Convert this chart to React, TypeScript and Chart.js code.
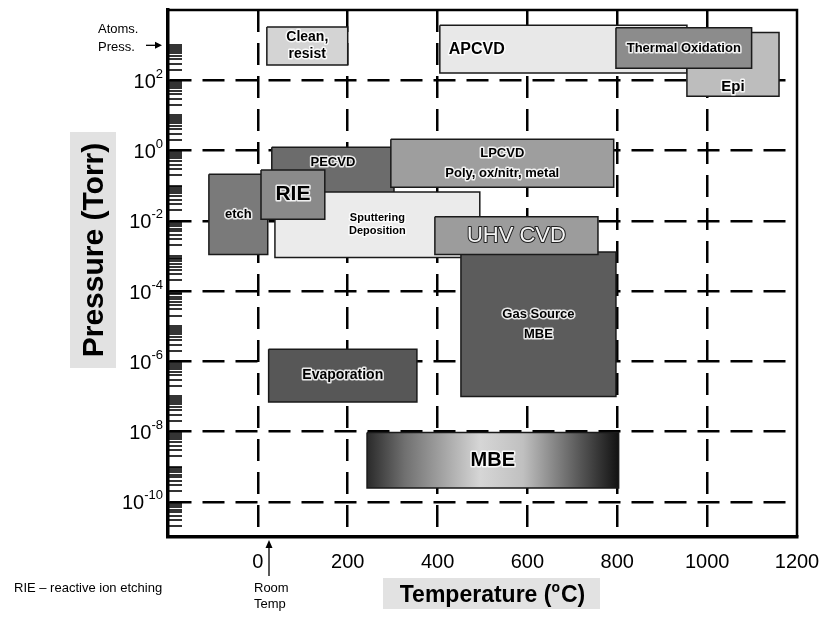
import React, { useEffect, useRef } from 'react';
import { Chart, registerables } from 'chart.js';

Chart.register(...registerables);

// ---------------- data ----------------
const processNames = [
  'Clean,\nresist',
  'APCVD',
  'Epi',
  'Thermal Oxidation',
  'PECVD',
  'LPCVD\nPoly, ox/nitr, metal',
  'etch',
  'Sputtering\nDeposition',
  'RIE',
  'Gas Source\nMBE',
  'UHV CVD',
  'Evaporation',
  'MBE',
];
// temperature range (°C)
const tempLow = [20, 405, 955, 797, 31, 296, -109, 38, 7, 452, 394, 24, 243];
const tempHigh = [200, 955, 1160, 1099, 303, 792, 22, 494, 149, 797, 757, 354, 803];
// pressure range (Torr)
const pressLow = [270, 160, 35, 220, 0.06, 0.09, 0.0011, 0.0009, 0.011, 1e-7, 0.0011, 7e-8, 2.5e-10];
const pressHigh = [3300, 3700, 2300, 3100, 1.25, 2.1, 0.21, 0.066, 0.28, 0.0013, 0.013, 2.2e-6, 9.5e-9];

const xTickValues = [-200, 0, 200, 400, 600, 800, 1000, 1200];
const xTickLabels = ['', '0', '200', '400', '600', '800', '1000', '1200'];
const yMajorExponents = [2, 0, -2, -4, -6, -8, -10];
const yDecades = [-11, -10, -9, -8, -7, -6, -5, -4, -3, -2, -1, 0, 1, 2];
const yMinorMultipliers = [1, 2, 3, 4, 5, 6, 7, 8, 9];
const yTopTick = 1000;

// ---------------- styles ----------------
const FONT = '"Liberation Sans", Arial, Helvetica, sans-serif';
const boxColors = [
  '#d4d4d4', '#e8e8e8', '#bdbdbd', '#8c8c8c', '#6c6c6c', '#9e9e9e', '#7a7a7a',
  '#ebebeb', '#8a8a8a', '#5c5c5c', '#9c9c9c', '#575757', 'gradient',
];
type LabelStyle = { font: string; lh: number; align?: CanvasTextAlign; atTemp?: number; atPress?: number; color?: string; halo?: string; haloW?: number };
const labelStyles: LabelStyle[] = [
  { font: 'bold 14px', lh: 17 },
  { font: 'bold 16px', lh: 18, align: 'left', atTemp: 425 },
  { font: 'bold 15px', lh: 18, atPress: 65 },
  { font: 'bold 13px', lh: 16 },
  { font: 'bold 13px', lh: 16, atPress: 0.47 },
  { font: 'bold 13px', lh: 20 },
  { font: 'bold 13px', lh: 16 },
  { font: 'bold 11px', lh: 13 },
  { font: 'bold 21px', lh: 22 },
  { font: 'bold 13px', lh: 20 },
  { font: '22px', lh: 22, color: '#f4f4f4', halo: '#202020', haloW: 2 },
  { font: 'bold 14px', lh: 16 },
  { font: 'bold 20px', lh: 22 },
];

const boxPlugin = {
  id: 'boxLabels',
  afterDatasetsDraw(chart: any) {
    const { ctx } = chart;
    const x = chart.scales.x;
    const y = chart.scales.y;
    processNames.forEach((name, i) => {
      const st = labelStyles[i];
      const left = x.getPixelForValue(tempLow[i]);
      const right = x.getPixelForValue(tempHigh[i]);
      const top = y.getPixelForValue(pressHigh[i]);
      const bottom = y.getPixelForValue(pressLow[i]);
      const cx = st.atTemp != null ? x.getPixelForValue(st.atTemp) : (left + right) / 2;
      const cy = st.atPress != null ? y.getPixelForValue(st.atPress) : (top + bottom) / 2;
      const lines = name.split('\n');
      ctx.save();
      ctx.font = `${st.font} ${FONT}`;
      ctx.textAlign = st.align || 'center';
      ctx.textBaseline = 'middle';
      ctx.lineJoin = 'round';
      lines.forEach((ln, k) => {
        const ly = cy + (k - (lines.length - 1) / 2) * st.lh;
        ctx.strokeStyle = st.halo || 'rgba(255,255,255,0.85)';
        ctx.lineWidth = st.haloW ?? 3;
        ctx.strokeText(ln, cx, ly);
        ctx.fillStyle = st.color || '#000';
        ctx.fillText(ln, cx, ly);
      });
      ctx.restore();
    });
  },
  afterDraw(chart: any) {
    const { ctx, chartArea } = chart;
    const y = chart.scales.y;
    ctx.save();
    // top & right frame
    ctx.strokeStyle = '#000';
    ctx.lineWidth = 2.5;
    ctx.beginPath();
    ctx.moveTo(chartArea.left, chartArea.top);
    ctx.lineTo(chartArea.right, chartArea.top);
    ctx.lineTo(chartArea.right, chartArea.bottom);
    ctx.stroke();

    // y tick labels 10^n
    ctx.fillStyle = '#000';
    ctx.textBaseline = 'middle';
    ctx.textAlign = 'left';
    yMajorExponents.forEach((e) => {
      const py = y.getPixelForValue(Math.pow(10, e));
      ctx.font = `20px ${FONT}`;
      const wBase = ctx.measureText('10').width;
      ctx.font = `13px ${FONT}`;
      const expStr = String(e);
      const wExp = ctx.measureText(expStr).width;
      const x0 = chartArea.left - 5 - wBase - wExp;
      ctx.font = `20px ${FONT}`;
      ctx.fillText('10', x0, py + 2);
      ctx.font = `13px ${FONT}`;
      ctx.fillText(expStr, x0 + wBase, py - 6);
    });

    // y axis title with grey background
    ctx.fillStyle = '#e2e2e2';
    ctx.fillRect(70, 132, 46, 236);
    ctx.save();
    ctx.translate(95, 250);
    ctx.rotate(-Math.PI / 2);
    ctx.fillStyle = '#000';
    ctx.font = `bold 30px ${FONT}`;
    ctx.textAlign = 'center';
    ctx.textBaseline = 'middle';
    ctx.fillText('Pressure (Torr)', 0, 0);
    ctx.restore();

    // x axis title with grey background
    ctx.fillStyle = '#e2e2e2';
    ctx.fillRect(383, 578, 217, 31);
    ctx.fillStyle = '#000';
    ctx.textAlign = 'left';
    ctx.textBaseline = 'alphabetic';
    const p1 = 'Temperature (';
    const p2 = 'o';
    const p3 = 'C)';
    ctx.font = `bold 23px ${FONT}`;
    const w1 = ctx.measureText(p1).width;
    const w3 = ctx.measureText(p3).width;
    ctx.font = `bold 14px ${FONT}`;
    const w2 = ctx.measureText(p2).width;
    const tx = 492 - (w1 + w2 + w3) / 2;
    ctx.font = `bold 23px ${FONT}`;
    ctx.fillText(p1, tx, 602);
    ctx.font = `bold 14px ${FONT}`;
    ctx.fillText(p2, tx + w1, 592);
    ctx.font = `bold 23px ${FONT}`;
    ctx.fillText(p3, tx + w1 + w2 + 1, 602);

    // notes
    ctx.font = `13px ${FONT}`;
    ctx.textBaseline = 'middle';
    ctx.fillText('Atoms.', 98, 29);
    ctx.fillText('Press.', 98, 47);
    ctx.fillText('RIE – reactive ion etching', 14, 588);
    ctx.fillText('Room', 254, 588);
    ctx.fillText('Temp', 254, 604);

    // arrows
    ctx.strokeStyle = '#000';
    ctx.lineWidth = 1.3;
    const atm = y.getPixelForValue(760);
    ctx.beginPath();
    ctx.moveTo(146, atm - 4);
    ctx.lineTo(158, atm - 4);
    ctx.stroke();
    ctx.beginPath();
    ctx.moveTo(162, atm - 4);
    ctx.lineTo(155, atm - 7.5);
    ctx.lineTo(155, atm - 0.5);
    ctx.closePath();
    ctx.fill();

    ctx.beginPath();
    ctx.moveTo(269, 576);
    ctx.lineTo(269, 546);
    ctx.stroke();
    ctx.beginPath();
    ctx.moveTo(269, 540);
    ctx.lineTo(265.5, 548);
    ctx.lineTo(272.5, 548);
    ctx.closePath();
    ctx.fill();
    ctx.restore();
  },
};

function buildDatasets() {
  const n = processNames.length;
  return processNames.map((name, i) => ({
    label: name,
    data: [
      { x: tempLow[i], y: pressHigh[i] },
      { x: tempHigh[i], y: pressHigh[i] },
      { x: tempHigh[i], y: pressLow[i] },
      { x: tempLow[i], y: pressLow[i] },
      { x: tempLow[i], y: pressHigh[i] },
    ],
    showLine: true,
    fill: 'shape',
    tension: 0,
    pointRadius: 0,
    borderColor: '#1a1a1a',
    borderWidth: 1.5,
    order: n - i,
    backgroundColor:
      boxColors[i] === 'gradient'
        ? (c: any) => {
            const ch = c.chart;
            if (!ch.chartArea) return '#777';
            const x = ch.scales.x;
            const g = ch.ctx.createLinearGradient(x.getPixelForValue(tempLow[i]), 0, x.getPixelForValue(tempHigh[i]), 0);
            g.addColorStop(0, '#2a2a2a');
            g.addColorStop(0.15, '#707070');
            g.addColorStop(0.45, '#d6d6d6');
            g.addColorStop(0.62, '#c0c0c0');
            g.addColorStop(0.85, '#555555');
            g.addColorStop(1, '#121212');
            return g;
          }
        : boxColors[i],
  }));
}

export default function App() {
  const ref = useRef<HTMLCanvasElement | null>(null);
  useEffect(() => {
    if (!ref.current) return;
    const chart = new Chart(ref.current, {
      type: 'scatter',
      data: { datasets: buildDatasets() as any },
      options: {
        animation: false,
        responsive: false,
        events: [],
        layout: { padding: { left: 0, top: 10, right: 28, bottom: 0 } },
        plugins: { legend: { display: false }, tooltip: { enabled: false } },
        scales: {
          x: {
            type: 'linear',
            min: -200,
            max: 1200,
            afterBuildTicks: (s: any) => {
              s.ticks = xTickValues.map((v) => ({ value: v }));
            },
            afterFit: (s: any) => {
              s.height = 81;
              s.paddingLeft = 0;
              s.paddingRight = 0;
            },
            ticks: {
              autoSkip: false,
              maxRotation: 0,
              padding: 13,
              color: '#000',
              font: { family: FONT, size: 20 },
              callback: (v: any) => {
                const k = xTickValues.indexOf(Number(v));
                return k >= 0 ? xTickLabels[k] : '';
              },
            },
            grid: {
              drawTicks: false,
              lineWidth: 2.5,
              color: (c: any) =>
                c.tick && c.tick.value >= 0 && c.tick.value <= 1000 ? '#000' : 'rgba(0,0,0,0)',
            },
            border: { display: true, color: '#000', width: 3.5, dash: [22, 11] },
          },
          y: {
            type: 'logarithmic',
            min: 1e-11,
            max: 1e4,
            afterBuildTicks: (s: any) => {
              const t: any[] = [];
              yDecades.forEach((d) =>
                yMinorMultipliers.forEach((m) => t.push({ value: m * Math.pow(10, d), major: m === 1 }))
              );
              t.push({ value: yTopTick, major: true });
              s.ticks = t;
            },
            afterFit: (s: any) => {
              s.width = 168;
              s.paddingTop = 0;
              s.paddingBottom = 0;
            },
            ticks: { display: false, autoSkip: false },
            grid: {
              drawTicks: true,
              tickLength: -14,
              tickWidth: 1.6,
              tickColor: '#000',
              lineWidth: (c: any) => {
                if (!c.tick) return 0;
                const e = Math.log10(c.tick.value);
                const r = Math.round(e);
                return Math.abs(e - r) < 1e-6 && yMajorExponents.includes(r) ? 2.5 : 0;
              },
              color: '#000',
            },
            border: { display: true, color: '#000', width: 3.5, dash: [22, 11] },
          },
        },
      },
      plugins: [boxPlugin],
    });
    return () => chart.destroy();
  }, []);
  return (
    <canvas
      ref={ref}
      width={825}
      height={618}
      style={{ display: 'block', position: 'absolute', left: 0, top: 0 }}
    />
  );
}
